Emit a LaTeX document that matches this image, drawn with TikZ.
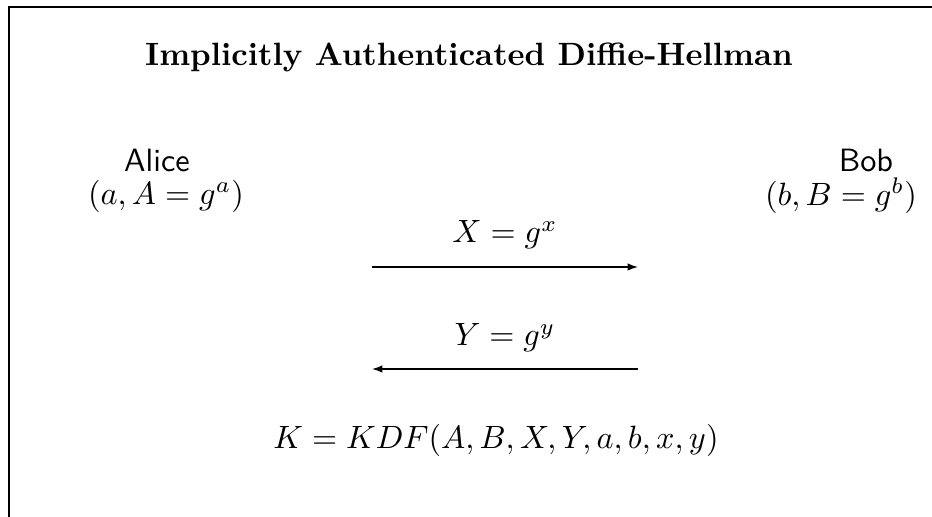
\documentclass[tikz,border=0pt]{standalone}
\usetikzlibrary{arrows.meta}
\begin{document}
\begin{tikzpicture}[x=0.31pt,y=-0.31pt,
  frame/.style={line width=0.55pt},
  msg/.style={line width=0.45pt,-{Latex[length=3.2pt,width=2.3pt]}},
  lbl/.style={inner sep=0pt,anchor=center}]
\useasboundingbox (0,0) rectangle (932,517);
\coordinate (tl) at (9,7);
\coordinate (tr) at (932,7);
\coordinate (bl) at (9,517);
\draw[frame] (tr) -- (tl) -- (bl);
\node[lbl] (title) at (469,57) {\textbf{Implicitly Authenticated Diffie-Hellman}};
\node[lbl] (alice) at (157,160) {\textsf{Alice}};
\node[lbl] (akey) at (166,196) {$(a, A = g^a)$};
\node[lbl] (bob) at (866,160) {\textsf{Bob}};
\node[lbl] (bkey) at (841,196) {$(b, B = g^b)$};
\node[lbl] (xmsg) at (505,235) {$X = g^x$};
\node[lbl] (ymsg) at (505,338) {$Y = g^y$};
\coordinate (a1) at (372,267);
\coordinate (b1) at (638,267);
\coordinate (a2) at (372,369);
\coordinate (b2) at (638,369);
\draw[msg] (a1) -- (b1);
\draw[msg] (b2) -- (a2);
\node[lbl] (kdf) at (496,440) {$K = KDF(A, B, X, Y, a, b, x, y)$};
\end{tikzpicture}
\end{document}
